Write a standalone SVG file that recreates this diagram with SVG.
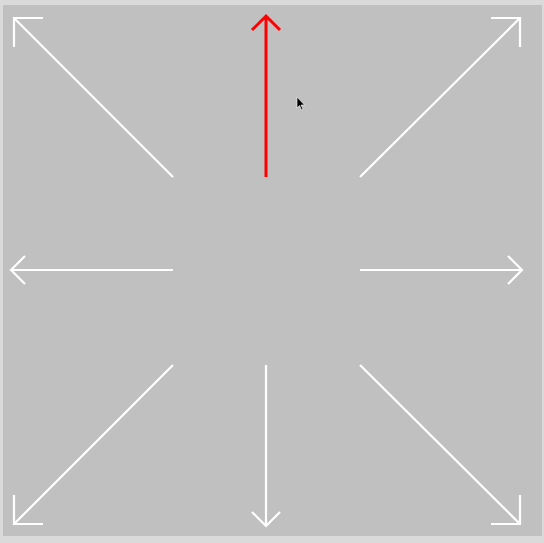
<svg xmlns="http://www.w3.org/2000/svg" width="544" height="543" viewBox="0 0 544 543">
<style>
.w{fill:none;stroke:#ffffff;stroke-width:2.2;stroke-linecap:butt}
.r{fill:none;stroke:#ff0000;stroke-width:3}
</style>
<rect x="0" y="0" width="544" height="543" fill="#dadada"/>
<rect x="3" y="5" width="539" height="531" fill="#c0c0c0"/>
<g id="arrows">
<g id="nw"><path class="w" d="M173,177 L14,18 M43,18 L14,18 L14,47"/></g>
<g id="n"><path class="r" d="M266,177 L266,16 M252,30 L266,16 L280,30"/></g>
<g id="ne"><path class="w" d="M360,177 L520,18 M491,18 L520,18 L520,47"/></g>
<g id="w"><path class="w" d="M173,270 L11,270 M25,256 L11,270 L25,284"/></g>
<g id="e"><path class="w" d="M360,270 L522,270 M508,256 L522,270 L508,284"/></g>
<g id="sw"><path class="w" d="M173,365 L14,524 M14,495 L14,524 L43,524"/></g>
<g id="s"><path class="w" d="M266,365 L266,526 M252,512 L266,526 L280,512"/></g>
<g id="se"><path class="w" d="M360,365 L520,524 M520,495 L520,524 L491,524"/></g>
</g>
<g id="cursor"><path d="M297,97 L297,108 L299.5,105.5 L301.5,110 L303,109.3 L301,105 L304.5,105 Z" fill="#000" stroke="#fff" stroke-width="0.6"/></g>
</svg>
